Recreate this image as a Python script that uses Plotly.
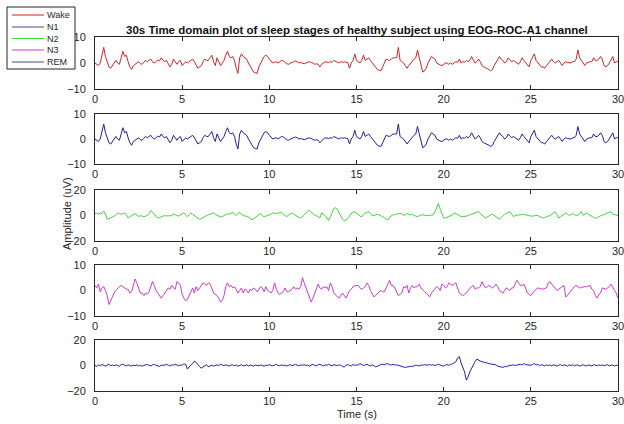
import numpy as np
import plotly.graph_objects as go

# ---------------- data (0.1 s sampling) ----------------
TIME = np.round(np.arange(301) * 0.1, 1)

STAGES = ["Wake", "N1", "N2", "N3", "REM"]
COLORS = ["#d42424", "#1f1f9e", "#3fd83f", "#d03ad0", "#2323a8"]
LEGEND_COLORS = ["#d42424", "#4a4a8a", "#3fd83f", "#d03ad0", "#4a4a8a"]
Y_RANGES = [[-10, 10], [-10, 10], [-20, 20], [-10, 10], [-20, 20]]
Y_TICKS = [[-10, 0, 10], [-10, 0, 10], [-20, 0, 20], [-10, 0, 10], [-20, 0, 20]]
X_TICKS = [0, 5, 10, 15, 20, 25, 30]

WAKE = [
    0.0, -0.5, -1.0, 0.0, 3.0, 6.0, 2.5, 0.5, -1.5, -2.0,
    -1.0, -0.5, 1.0, 0.0, -0.5, 2.0, 4.5, 2.5, 3.0, 0.5,
    -1.5, -2.5, -1.0, -0.5, 0.0, 0.5, -0.3, -0.5, 0.3, 1.0,
    0.5, 1.0, 1.5, 0.5, 0.0, 0.5, 1.2, 0.8, 2.0, 1.0,
    0.5, 1.0, 0.0, -1.5, -0.5, 1.5, 0.5, -0.5, 0.5, 1.0,
    -1.0, 0.0, 0.5, 0.0, 0.5, 1.0, 1.5, 0.5, -1.0, -2.0,
    -1.5, -1.0, 0.5, 1.5, 1.0, 1.0, 2.0, 3.0, 0.5, -1.0,
    2.0, 0.5, -1.0, 0.0, 1.0, 3.0, 4.5, 2.5, 2.0, 2.5,
    1.0, -2.0, -4.0, 2.0, 3.5, 2.5, 2.0, 1.5, 0.0, -1.0,
    -2.0, -3.5, -3.8, -4.0, -1.5, 0.0, 1.5, 2.5, 3.0, 2.5,
    1.5, 0.8, 0.0, 0.3, 0.5, 0.0, 0.5, 1.0, 0.8, 0.2,
    -0.3, -0.5, 0.0, 0.3, 0.5, 0.8, 0.5, 0.0, 0.2, 0.0,
    -0.3, 0.0, 0.3, 0.5, 0.2, 0.0, -0.5, -0.3, -0.5, -1.5,
    -0.5, 0.0, 0.5, 0.3, 0.2, 0.5, 0.3, 1.0, 0.5, 0.3,
    0.0, 0.5, 0.3, 0.5, 0.3, 0.2, -2.0, 0.0, 1.0, 3.5,
    1.0, 0.5, 0.0, 1.0, 3.0, 1.0, 1.5, 2.0, 1.0, 0.0,
    -1.0, -2.0, -2.5, -2.8, -3.0, -1.5, 0.0, 1.5, 1.2, 1.0,
    1.5, 2.0, 2.0, 2.0, 6.0, 1.0, 0.5, 0.0, -1.0, -2.0,
    -1.0, 0.0, 1.0, 1.5, 2.0, 5.0, 2.0, -1.0, -3.5, -3.0,
    -2.0, 0.0, 1.0, 2.5, 2.0, 1.5, 0.0, -0.5, -0.8, -1.0,
    -0.5, 0.0, 0.0, -0.5, 0.0, -0.5, 0.0, 0.5, 0.3, 1.5,
    0.0, 0.5, 0.3, 1.0, 0.5, 1.0, 2.5, 1.0, 0.0, 0.5,
    1.5, 0.5, -1.0, -1.5, -1.8, -2.0, -2.5, -3.0, -2.5, -1.0,
    0.0, 1.0, 2.5, 1.5, 1.0, 0.0, 0.5, 2.0, 1.0, 0.5,
    1.0, 0.5, 0.0, -0.5, 0.5, 2.0, 1.0, 0.0, -1.0, -1.5,
    1.0, 2.0, 3.5, 1.0, 0.0, -1.0, -1.5, -1.5, -2.0, -1.0,
    0.0, 0.5, 1.5, 0.5, 0.0, 0.5, 1.0, 0.0, -1.0, 0.0,
    0.5, 0.2, 0.0, 0.0, 0.5, 0.5, 1.5, 5.0, 2.0, 1.0,
    0.0, -1.0, 0.0, 0.3, 0.5, 0.5, 2.0, 1.0, 1.0, 1.5,
    2.5, 1.5, -1.0, -1.5, -1.0, 0.0, 1.0, 2.5, 0.0, 0.5,
    0.5,
]

# N1 trace in the reference has the same shape as Wake
N1 = list(WAKE)

N2 = [
    1.5, 2.0, 1.0, 2.0, 1.5, 3.5, 1.0, -3.0, -2.5, -2.0,
    -1.0, -0.5, 0.5, 2.0, 1.5, 1.0, 1.5, 2.0, 0.5, -2.0,
    -1.0, 0.0, 1.0, 1.5, 0.5, -1.0, 0.0, -0.5, -1.0, -0.5,
    0.0, 1.5, 4.0, 2.5, 1.0, -1.0, -2.0, -1.5, -1.0, -0.5,
    0.0, -0.5, 0.0, -0.5, 0.5, 1.0, 0.5, 0.0, -0.5, 0.5,
    1.5, 2.0, 0.5, -1.0, 0.5, 2.0, 1.0, 0.0, -1.0, -2.0,
    -3.0, -2.5, -1.5, -1.0, 0.0, 0.5, 1.0, 1.5, 2.0, 1.0,
    0.0, -0.5, -1.0, -1.0, 0.0, 1.0, 1.5, 1.0, 2.0, 2.5,
    1.0, 0.0, 1.5, 2.5, 1.0, 0.0, -0.5, -0.5, -1.0, -2.0,
    -3.5, -2.5, -1.0, 0.0, 1.0, 1.5, 0.0, -1.0, -0.5, 0.0,
    0.0, 1.0, 2.0, 1.5, 1.5, 2.0, 2.5, 2.5, 1.0, 0.0,
    -1.0, 0.5, 1.5, 2.0, 1.0, 0.0, -0.5, -1.5, -2.0, -0.5,
    1.0, 2.5, 3.5, 4.0, 2.5, 1.5, 0.5, 0.0, -1.0, -2.0,
    2.0, 1.0, 0.0, -2.0, -4.0, -1.0, 2.5, 5.5, 6.0, 5.0,
    2.0, -1.0, -3.0, -4.0, -3.5, -2.0, 0.0, 1.5, 3.0, 2.5,
    2.0, 1.0, -0.5, -1.0, 0.5, 2.0, 2.5, 3.0, 1.5, 0.0,
    0.0, 0.5, 1.0, 0.5, -0.5, -1.0, -1.5, -3.0, -3.5, -1.5,
    0.0, 0.5, 0.5, 1.0, 1.5, 1.5, 1.5, 0.0, 0.5, 1.5,
    1.0, 0.5, 1.0, 0.0, -0.5, -1.0, 0.0, 0.5, 0.5, 0.0,
    0.0, 0.0, 0.0, 0.5, 0.5, 3.0, 6.0, 9.5, 5.0, 2.0,
    -2.0, -2.0, -1.5, -1.0, 0.0, 0.5, 2.0, 1.5, 1.0, 0.0,
    -1.0, -1.0, -0.5, -0.5, 0.0, 0.5, 1.0, 1.5, 2.0, 2.0,
    3.0, 1.5, 0.0, -1.0, -2.0, -1.0, 0.0, 0.5, 1.0, 0.0,
    -1.0, -2.0, -3.0, -1.5, 0.0, 1.0, 1.5, 2.0, 3.0, 1.0,
    -1.0, 0.0, 0.5, 0.5, 0.5, 1.0, 1.0, 0.5, 0.0, 0.0,
    -0.5, -0.5, 0.0, 0.0, 0.0, -0.5, -1.0, -2.0, -1.5, -1.0,
    -1.0, 0.0, 1.0, 2.0, 3.0, 0.5, -2.0, -1.0, 0.0, 1.0,
    2.0, 1.0, 0.0, 0.5, 1.5, 0.5, 0.0, 0.0, 1.5, 3.0,
    0.0, 1.0, 2.0, 1.0, 0.0, -1.0, -1.5, -2.0, -2.0, -1.0,
    0.0, 0.5, 0.5, 1.5, 2.0, 2.5, 3.0, 1.0, 0.5, 0.5,
    0.0,
]

N3 = [
    2.0, 1.0, 2.5, -0.5, 1.0, 1.5, 0.0, -2.0, -5.5, -4.0,
    -2.0, -1.0, 0.0, 1.0, 1.5, 2.0, 1.5, 1.0, 0.5, 0.5,
    -1.0, -0.5, 2.0, 4.5, 3.0, 1.0, -1.0, -1.0, -2.0, -1.0,
    -1.5, -0.5, 1.5, 3.5, 2.0, 0.0, -1.0, -2.0, -3.0, -2.0,
    -1.0, 0.0, 1.0, 0.5, 2.0, 1.0, 0.5, 3.5, 3.0, 2.0,
    -1.5, -3.0, -4.0, -3.5, -2.0, 0.0, 1.0, -1.0, 1.5, 0.0,
    1.0, 2.0, 3.0, 2.5, 2.0, 3.0, 2.5, 1.0, -1.0, -1.5,
    -2.0, -3.0, -4.5, -4.0, -2.0, 1.5, 3.0, 1.5, 2.0, 1.0,
    1.5, 0.5, -1.0, 0.0, 1.0, -1.0, 0.5, 0.0, -1.0, 0.5,
    0.0, 1.0, 0.5, -0.5, 0.5, 1.5, 1.0, -0.5, 1.5, 0.0,
    -0.5, -1.0, 0.0, 3.0, 0.5, -1.0, -1.5, -1.0, -0.5, 1.0,
    -0.5, -0.5, 0.0, 0.5, 1.5, 0.5, 1.0, 0.5, 1.5, 5.0,
    3.0, 1.0, -1.0, -3.0, -4.5, -3.0, -1.0, 1.0, 2.5, 1.0,
    0.5, 1.5, 1.0, 1.5, 0.0, 3.0, 1.5, -1.0, -2.0, -2.5,
    -3.0, -2.0, -1.0, -2.0, -3.0, -1.5, 0.0, 0.5, 1.5, 1.8,
    2.0, 2.0, 1.0, 0.5, 1.0, 1.5, 3.0, 2.0, 0.0, -1.0,
    -2.5, -2.0, -1.0, -0.5, 0.0, -0.5, -0.5, 1.0, 2.0, 4.0,
    2.0, 2.0, 1.0, -0.5, -2.0, -1.5, -1.0, 1.5, 1.0, 2.0,
    -1.0, 1.0, 2.0, 1.0, 1.5, 1.5, 2.5, 1.0, 0.0, -0.5,
    -1.0, -2.0, -2.5, -1.0, 0.0, 1.0, 1.5, 1.0, 0.0, 2.5,
    2.0, 1.0, 1.5, 3.0, 2.5, 2.0, 2.5, 3.0, 1.0, -1.0,
    -1.5, -2.0, -1.5, -1.0, 0.0, 1.0, 1.5, 2.0, 0.5, 1.0,
    1.0, 1.5, 3.5, 2.0, 1.0, 1.5, 2.0, 1.5, 1.0, 1.5,
    2.5, 1.5, 0.0, -0.5, -1.0, 0.0, 1.0, 0.5, 0.0, 1.0,
    1.0, 2.5, 4.0, 3.0, 2.0, 2.0, 2.5, 1.0, -1.0, -1.5,
    -2.0, -1.0, 0.0, 0.5, 1.0, 0.8, 0.5, 0.5, 0.8, 1.0,
    3.0, 3.5, 2.5, 1.5, 1.0, 0.0, 0.5, 1.0, 1.5, 2.0,
    -2.5, -2.0, -1.0, 0.0, 1.0, 1.5, 2.0, 1.5, 1.0, 1.2,
    1.5, 1.5, 1.5, 1.8, 2.0, 0.5, 0.0, -2.0, -3.0, -1.5,
    -1.0, 1.0, 0.8, 0.5, 1.0, 1.5, 2.5, 1.0, 0.0, -1.0,
    -3.0,
]

REM = [
    0.0, -0.8, 0.6, -0.3, 0.8, 0.2, -0.5, 0.3, 0.9, -0.2,
    0.4, -0.3, 0.5, 0.0, -0.6, 0.7, 1.0, 0.2, -0.4, 0.5,
    0.0, -0.5, 0.3, -0.2, 0.6, -0.4, 0.2, -0.6, 0.1, 0.4,
    0.8, 0.2, -0.3, 0.5, 0.9, 0.1, -0.2, -0.7, 0.3, 0.0,
    0.4, 0.9, 0.3, -0.4, 0.6, 0.2, 1.0, 0.3, -0.2, 0.5,
    0.2, 1.2, 1.0, -2.8, -1.0, 0.5, 1.5, 3.5, 2.5, 0.5,
    -1.0, -2.0, -1.2, 0.0, 0.6, -1.0, -0.3, 0.2, -0.5, 0.3,
    0.5, 0.0, 1.0, 0.4, -0.3, 0.6, 0.1, -0.4, 0.3, 0.5,
    -0.2, 0.4, -0.6, 0.2, 0.7, -0.3, 0.1, 0.5, -0.4, 0.3,
    0.0, -0.5, 0.4, 0.2, -0.3, 0.5, 0.0, -0.6, 0.3, 0.1,
    0.6, 0.2, -0.3, 0.4, 0.8, 0.1, -0.2, 0.5, 0.0, 0.3,
    -0.4, 0.2, 0.6, -0.1, 0.4, 0.9, 0.2, -0.3, 0.5, 0.1,
    0.7, 0.0, 0.4, -0.5, 0.3, 0.8, 0.2, -0.2, 0.6, 1.0,
    0.3, -0.4, 0.5, 0.1, 0.9, 0.4, -0.3, 0.6, 0.2, -0.1,
    0.5, 0.2, -0.8, -1.2, 0.3, 0.6, 0.1, -0.4, 0.8, 0.0,
    0.5, 0.3, 1.5, 0.6, 0.0, 0.4, 1.0, 0.2, -0.3, 0.5,
    0.0, -1.0, -0.6, 0.3, 0.8, 1.0, 0.5, 1.2, 1.5, 0.6,
    0.5, 1.0, 0.3, 0.6, 0.0, -0.4, -0.8, -1.2, -1.5, -1.0,
    -1.0, -0.6, -0.8, -0.2, 0.3, 0.0, -0.3, 0.4, 0.2, 0.6,
    0.5, 0.3, 0.8, 0.2, 0.6, 0.0, 0.5, 0.9, 0.3, -0.2,
    -0.5, 0.3, 0.8, 0.0, 1.0, 1.2, 2.0, 3.0, 6.0, 7.0,
    2.0, -1.5, -5.0, -11.5, -9.0, -5.0, -2.0, 1.0, 3.0, 5.0,
    4.0, 3.5, 3.0, 2.5, 2.0, 1.8, 1.5, 1.2, 1.0, 0.8,
    0.5, -0.5, -1.0, -1.2, -1.5, -0.8, -1.0, -0.3, 0.0, 0.3,
    0.5, 0.0, 0.3, 0.8, 1.0, 0.4, 1.5, 0.7, 0.5, 0.0,
    0.2, 0.8, 1.5, 0.4, 0.9, -0.2, 0.6, 0.3, -0.4, 0.5,
    0.0, 0.4, -0.3, 0.6, 0.2, -0.5, 0.3, 0.7, -0.1, 0.4,
    0.2, -0.4, 0.5, 0.0, 0.6, -0.3, 0.2, 0.4, -0.5, 0.3,
    0.6, 0.0, -0.3, 0.5, 0.1, -0.4, 0.7, 0.2, -0.2, 0.4,
    0.0, 0.5, -0.3, 0.3, 0.6, -0.2, 0.1, 0.4, -0.5, 0.2,
    0.0,
]

SERIES = [WAKE, N1, N2, N3, REM]

# ---------------- layout geometry ----------------
W, H = 624, 424
RM = 6                      # right margin so the "30" tick label fits
PW = W - RM                 # plotting-area width in px (paper x spans 0..PW)
X_DOMAIN = [95 / PW, 1.0]   # plot from px 95 to px 618
PANEL_PX = [(37, 89), (114, 164), (190, 241), (265, 316), (340, 391)]

FONT = "Liberation Sans, Arial, Helvetica, sans-serif"
AXC = "#262626"

fig = go.Figure()
layout = dict(
    width=W, height=H,
    margin=dict(l=0, r=RM, t=0, b=0, autoexpand=False),
    paper_bgcolor="white", plot_bgcolor="white",
    showlegend=False,
    font=dict(family=FONT, size=11, color=AXC),
)

for i, (name, ys, col) in enumerate(zip(STAGES, SERIES, COLORS)):
    k = "" if i == 0 else str(i + 1)
    fig.add_trace(go.Scatter(
        x=TIME, y=ys, mode="lines", name=name,
        line=dict(color=col, width=1),
        xaxis="x" + k, yaxis="y" + k,
    ))
    top, bot = PANEL_PX[i]
    layout["xaxis" + k] = dict(
        domain=X_DOMAIN, anchor="y" + k, range=[0, 30],
        tickvals=X_TICKS, ticks="inside", ticklen=4, tickcolor=AXC,
        showline=True, linecolor=AXC, linewidth=1, mirror="ticks",
        showgrid=False, zeroline=False, ticklabeloverflow="allow",
        tickfont=dict(size=11, color=AXC, family=FONT),
    )
    layout["yaxis" + k] = dict(
        domain=[1 - bot / H, 1 - top / H], anchor="x" + k,
        range=Y_RANGES[i], tickvals=Y_TICKS[i],
        ticks="outside", ticklen=6, tickcolor="rgba(0,0,0,0)",
        showline=True, linecolor=AXC, linewidth=1, mirror=True,
        showgrid=False, zeroline=False,
        tickfont=dict(size=11, color=AXC, family=FONT),
    )

annotations = [
    dict(text="<b>30s Time domain plot of sleep stages of healthy subject using EOG-ROC-A1 channel</b>",
         x=(95 + 618) / 2 / PW, y=1 - 30 / H, xref="paper", yref="paper",
         showarrow=False, font=dict(size=11.5, color="#111111", family=FONT),
         xanchor="center", yanchor="middle"),
    dict(text="Amplitude (uV)", x=67 / PW, y=1 - 214 / H, xref="paper", yref="paper",
         showarrow=False, textangle=-90, font=dict(size=11, color=AXC, family=FONT),
         xanchor="center", yanchor="middle"),
    dict(text="Time (s)", x=(95 + 618) / 2 / PW, y=1 - 414 / H,
         xref="paper", yref="paper", showarrow=False,
         font=dict(size=11, color=AXC, family=FONT), xanchor="center", yanchor="middle"),
]

# legend box drawn as shapes/annotations to match the compact MATLAB legend
shapes = [dict(type="rect", xref="paper", yref="paper",
               x0=7 / PW, x1=75 / PW, y0=1 - 69 / H, y1=1 - 7 / H,
               line=dict(color=AXC, width=1), fillcolor="white")]
LEG_Y = [15, 27, 38.5, 50, 62]
for name, col, ly in zip(STAGES, LEGEND_COLORS, LEG_Y):
    shapes.append(dict(type="line", xref="paper", yref="paper",
                       x0=12 / PW, x1=44 / PW, y0=1 - ly / H, y1=1 - ly / H,
                       line=dict(color=col, width=1)))
    annotations.append(dict(text=name, x=45 / PW, y=1 - ly / H, xref="paper", yref="paper",
                            showarrow=False, xanchor="left", yanchor="middle",
                            font=dict(size=9, color=AXC, family=FONT)))

layout["annotations"] = annotations
layout["shapes"] = shapes
fig.update_layout(**layout)
fig.write_html("out.html")
